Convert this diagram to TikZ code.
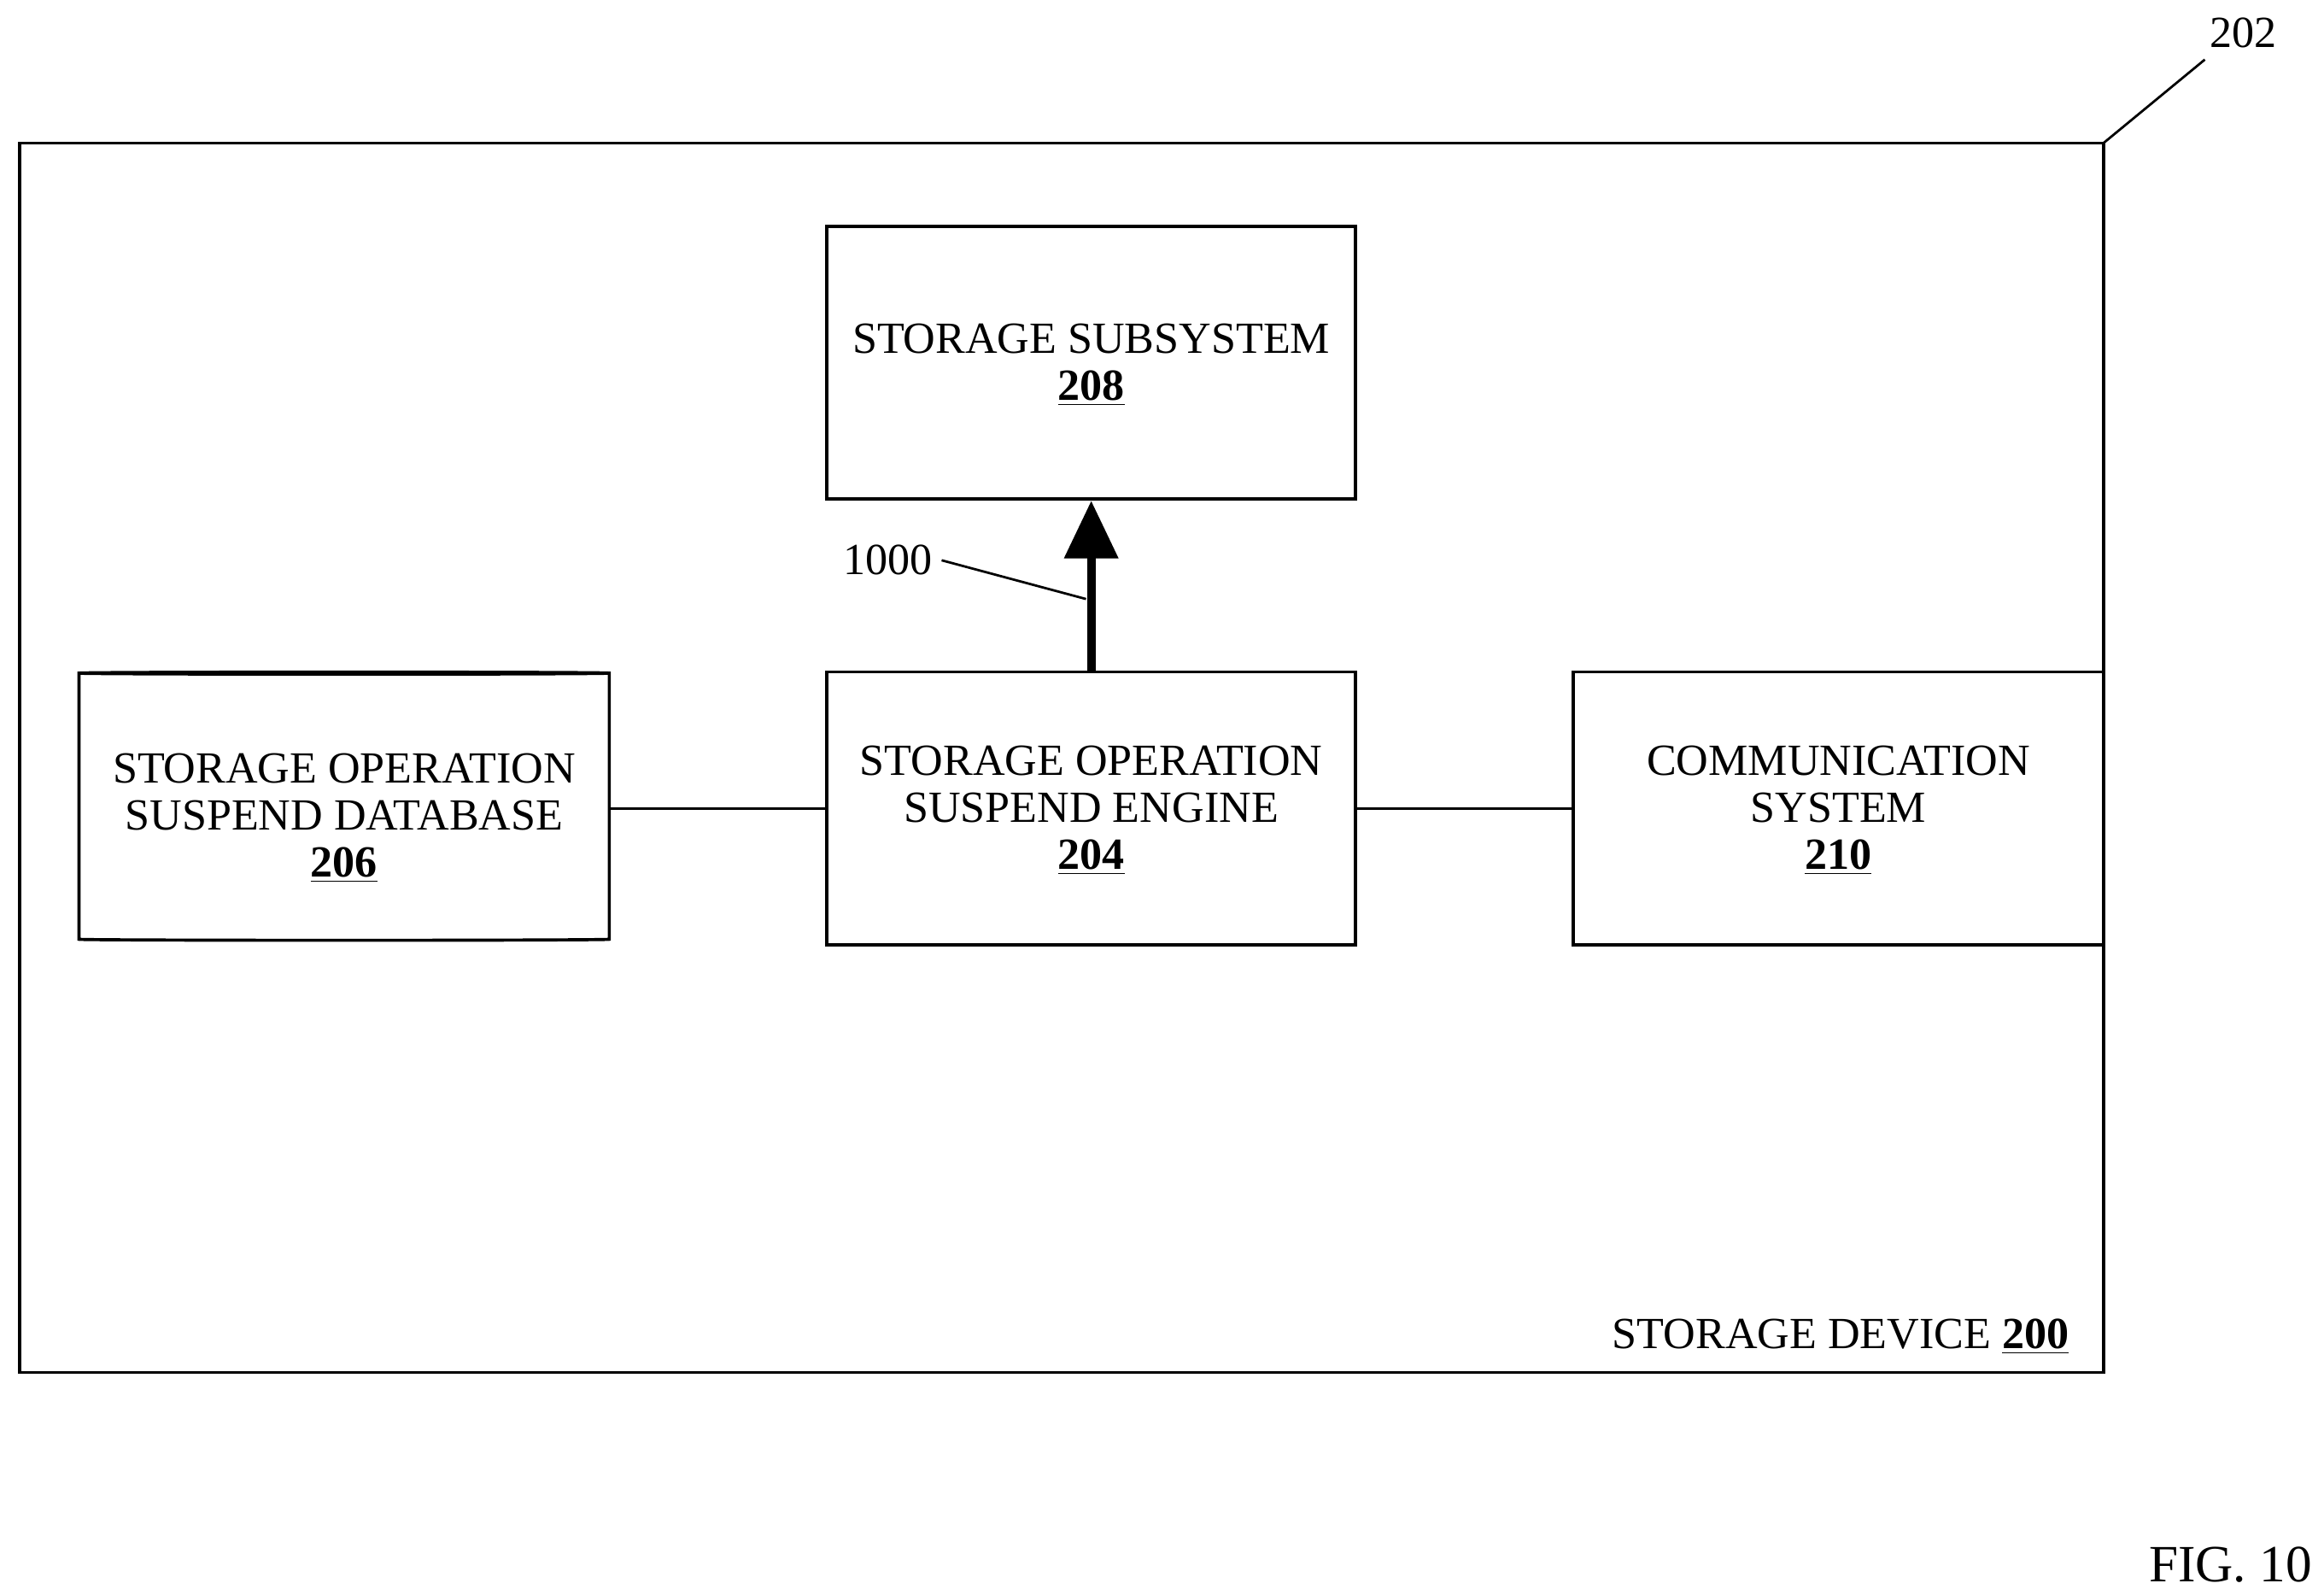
\documentclass[tikz,border=0pt]{standalone}
\usepackage{fontspec}
\setmainfont{Liberation Serif}
\usetikzlibrary{shapes.geometric,arrows.meta}
\begin{document}
\begin{tikzpicture}[x=0.02cm,y=-0.02cm,
  box/.style={draw,line width=1.2pt},
  txt/.style={font=\fontsize{17}{20}\selectfont,align=center},
  con/.style={line width=0.9pt}]
\useasboundingbox (0,0) rectangle (1560,1070);
\draw[box] (13,96) rectangle (1412,921);
\coordinate (c202) at (1412,96);
\coordinate (e202) at (1480,40);
\draw[con] (c202) -- (e202);
\node[txt,anchor=center] (l202) at (1506,22) {202};
\node[box,minimum width=355*0.02cm,minimum height=183*0.02cm] (sub) at (732.5,243.5) {};
\node[txt] (subt) at (732.5,245) {STORAGE SUBSYSTEM\\[-2pt]\textbf{\underline{208}}};
\node[box,minimum width=355*0.02cm,minimum height=183*0.02cm] (eng) at (732.5,542.5) {};
\node[txt] (engt) at (732.5,544) {STORAGE OPERATION\\[-2pt]SUSPEND ENGINE\\[-2pt]\textbf{\underline{204}}};
\node[box,minimum width=356*0.02cm,minimum height=183*0.02cm] (com) at (1234,542.5) {};
\node[txt] (comt) at (1234,544) {COMMUNICATION\\[-2pt]SYSTEM\\[-2pt]\textbf{\underline{210}}};
\node[box,cylinder,shape border rotate=90,aspect=0.12,minimum width=356*0.02cm,minimum height=180*0.02cm] (db) at (231,542) {};
\node[txt] (dbt) at (231,549) {STORAGE OPERATION\\[-2pt]SUSPEND DATABASE\\[-2pt]\textbf{\underline{206}}};
\draw[con] (db.east |- eng.west) -- (eng.west);
\draw[con] (eng.east) -- (com.west);
\draw[line width=3.2pt,-{Triangle[length=22pt,width=20pt]}] (eng.north) -- (sub.south);
\node[txt] (l1000) at (596,376) {1000};
\coordinate (e1000) at (729,402);
\draw[con] (l1000.east) -- (e1000);
\node[txt,anchor=east] (sd) at (1395,897) {STORAGE DEVICE \textbf{\underline{200}}};
\node[font=\fontsize{20}{24}\selectfont,anchor=east] (fig) at (1558,1050) {FIG. 10};
\end{tikzpicture}
\end{document}
